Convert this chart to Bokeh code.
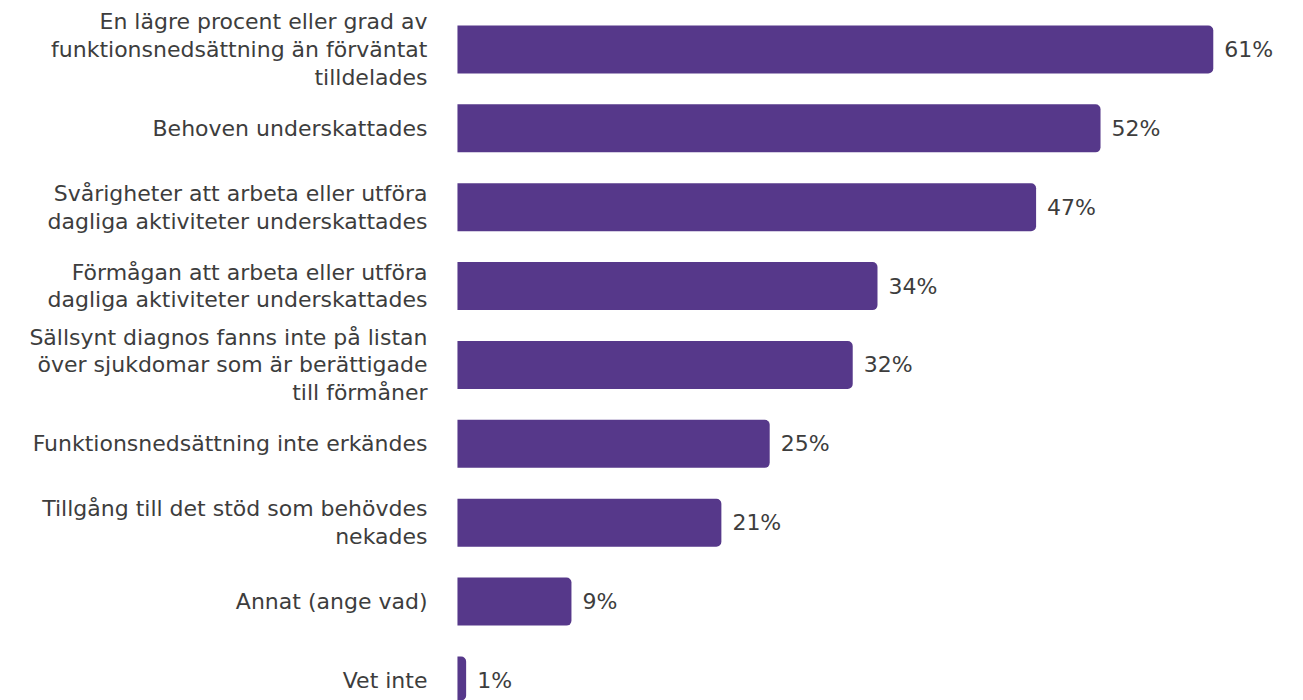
from bokeh.plotting import figure
from bokeh.models import ColumnDataSource, Range1d
from bokeh.core.properties import value
from bokeh.embed import file_html
from bokeh.resources import INLINE

categories = [
    "En lägre procent eller grad av\nfunktionsnedsättning än förväntat\ntilldelades",
    "Behoven underskattades",
    "Svårigheter att arbeta eller utföra\ndagliga aktiviteter underskattades",
    "Förmågan att arbeta eller utföra\ndagliga aktiviteter underskattades",
    "Sällsynt diagnos fanns inte på listan\növer sjukdomar som är berättigade\ntill förmåner",
    "Funktionsnedsättning inte erkändes",
    "Tillgång till det stöd som behövdes\nnekades",
    "Annat (ange vad)",
    "Vet inte",
]
values = [61.0, 51.9, 46.7, 33.9, 31.9, 25.2, 21.3, 9.2, 0.7]

n = len(categories)
ypos = [n - 1 - i for i in range(n)]
labels = [f"{round(v)}%" for v in values]

src = ColumnDataSource(dict(y=ypos, v=values, cat=categories, lab=labels))

FONT = value("DejaVu Sans")
TXT = "#3d3d3d"
BAR = "#56388a"

p = figure(width=1287, height=700, output_backend="svg", toolbar_location=None,
           x_range=Range1d(-36.88, 66.99), y_range=Range1d(-0.254, 8.621),
           min_border=0, x_axis_location=None, y_axis_location=None)
p.grid.visible = False
p.outline_line_color = None
p.background_fill_color = "white"
p.border_fill_color = "white"

p.hbar(y="y", left=0, right="v", height=0.6086, source=src,
       fill_color=BAR, line_color=None, border_radius=(0, 5, 5, 0))

p.text(x=0, y="y", text="cat", source=src, x_offset=-30,
       text_align="right", text_baseline="middle", text_font=FONT,
       text_font_size="22px", text_color=TXT, text_line_height=1.11)

p.text(x="v", y="y", text="lab", source=src, x_offset=11,
       text_align="left", text_baseline="middle", text_font=FONT,
       text_font_size="22px", text_color=TXT)

open("out.html", "w").write(file_html(p, INLINE))
